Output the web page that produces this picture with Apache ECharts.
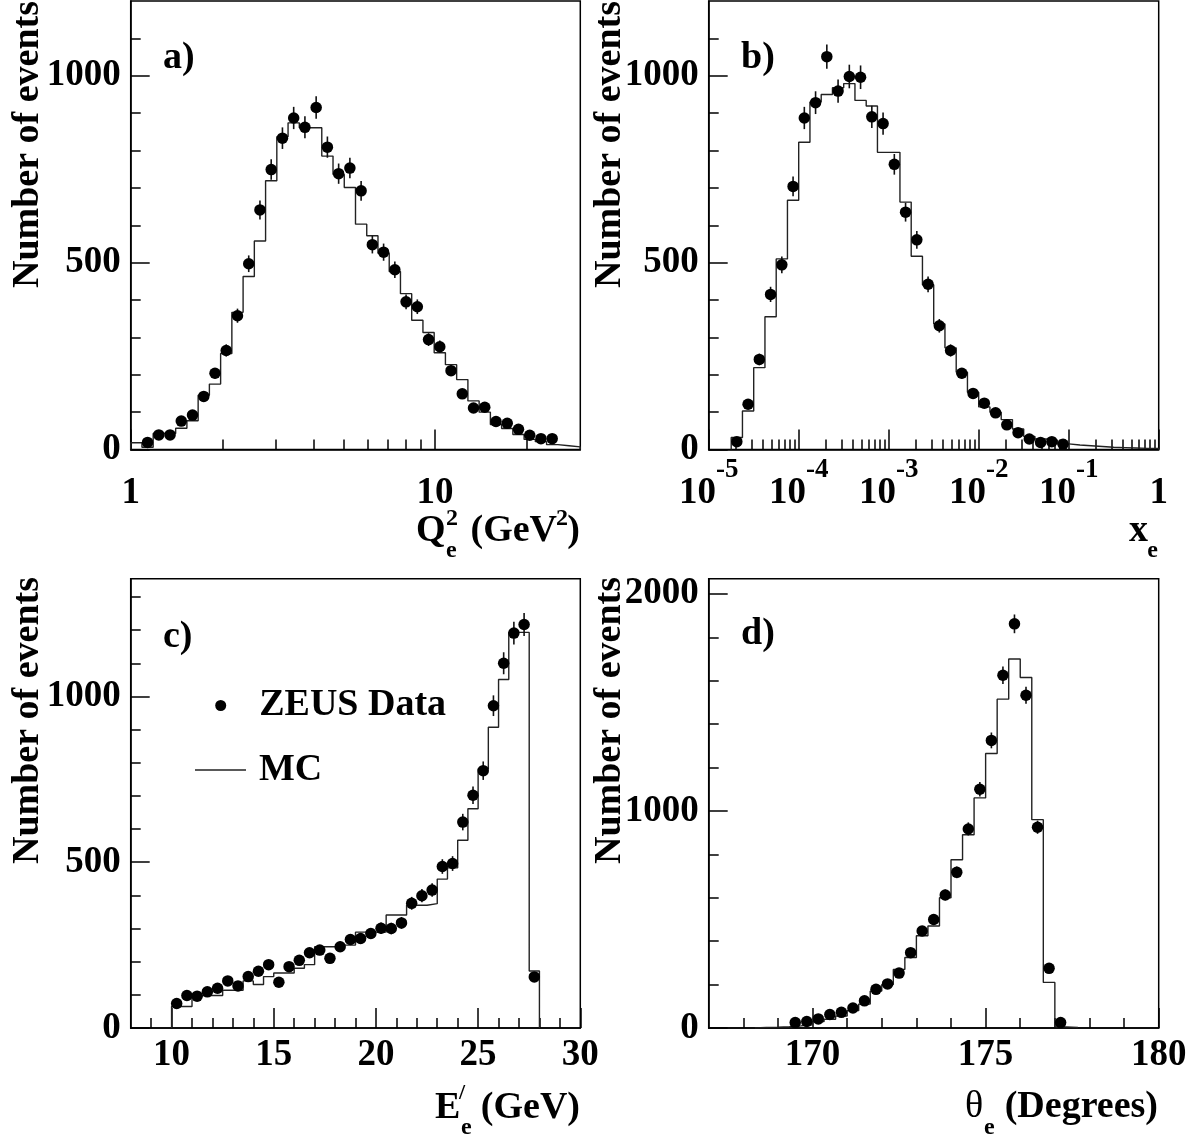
<!DOCTYPE html>
<html>
<head>
<meta charset="utf-8">
<script src="https://cdn.jsdelivr.net/npm/echarts@6.0.0/dist/echarts.min.js"></script>
<style>
html,body{margin:0;padding:0;background:#fff;}
#chart{width:1195px;height:1138px;}
</style>
</head>
<body>
<div id="chart"></div>
<script>
const FONT = '"Liberation Serif","Times New Roman",serif';

// ---------------- Panel a) Q^2_e (log bins 1..30, 40 bins) ----------------
const aBinLo = 1, aBinHi = 30, aNBins = 40;
const aMC = [18, 6, 43, 43, 57, 77, 145, 175, 257, 367, 463, 558, 719, 837, 874, 861, 861, 785, 736, 701,
             603, 572, 525, 476, 417, 346, 313, 259, 227, 187, 130, 100, 67, 56, 40, 27, 21, 13, 10, 7];
const aDataFirstBin = 1;
const aData = [19, 39, 39, 76, 92, 142, 204, 265, 358, 497, 641, 749, 833, 887, 862, 915, 809, 738, 753, 692,
               548, 528, 481, 395, 382, 294, 275, 211, 149, 111, 113, 75, 70, 54, 38, 29, 29];
const aXMajor = [1, 10];
const aXMinor = [2, 3, 4, 5, 6, 7, 8, 9, 20];

// ---------------- Panel b) x_e (log bins 10^-4.75..1, 8 per decade) ----------------
const bBinLo = Math.pow(10, -4.75), bBinHi = 1, bNBins = 38;
const bMC = [32, 103, 219, 355, 510, 667, 822, 930, 950, 968, 979, 934, 919, 795, 795, 662, 517, 441, 336, 272,
             207, 153, 114, 100, 80, 55, 35, 28, 25, 15, 12, 10, 8, 6, 5, 4, 3, 3];
const bDataFirstBin = 0;
const bData = [21, 121, 241, 415, 494, 704, 887, 928, 1051, 959, 998, 996, 890, 872, 763, 635, 561, 442, 331, 265,
               204, 150, 124, 98, 66, 45, 28, 19, 21, 14];
const bXMajor = [1e-5, 1e-4, 1e-3, 1e-2, 1e-1, 1];
const bXMinorMult = [2, 3, 4, 5, 6, 7, 8, 9];

// ---------------- Panel c) E'_e (0.5 GeV bins from 10 GeV) ----------------
const cBinLo = 10, cBinWidth = 0.5, cNBins = 36;
const cMC = [65, 65, 98, 98, 98, 114, 114, 142, 131, 155, 166, 166, 180, 191, 245, 245, 250, 250, 289, 289,
             289, 341, 341, 370, 370, 375, 449, 483, 566, 661, 781, 907, 1051, 1193, 1193, 172];
const cDataFirstBin = 0;
const cData = [74, 98, 96, 109, 120, 142, 127, 155, 171, 191, 138, 185, 204, 227, 235, 210, 245, 267, 270, 285,
               301, 300, 317, 376, 399, 416, 487, 496, 621, 702, 776, 972, 1100, 1191, 1217, 154];
const cXMajor = [10, 15, 20, 25, 30];
const cXMinor = [9, 11, 12, 13, 14, 16, 17, 18, 19, 21, 22, 23, 24, 26, 27, 28, 29];

// ---------------- Panel d) theta_e (1/3 degree bins from 167) ----------------
const dBinLo = 167, dBinWidth = 1 / 3, dNBins = 39;
const dMCFirstBin = 4;
const dMC = [3, 4, 6, 10, 15, 30, 40, 55, 80, 110, 170, 200, 270, 325, 425, 470, 600, 775, 890, 1060,
             1265, 1515, 1700, 1615, 960, 210, 5, 2];
const dDataFirstBin = 7;
const dData = [25, 30, 42, 62, 72, 92, 125, 178, 203, 253, 347, 447, 500, 613, 717, 917, 1100, 1325, 1625, 1862,
               1533, 925, 275, 25];
const dXMajor = [170, 175, 180];
const dXMinor = [168, 169, 171, 172, 173, 174, 176, 177, 178, 179];

// ---------------- Y axes ----------------
const abYMax = 1200, cYMax = 1355, dYMax = 2070;
const abYMajor = [0, 500, 1000];
const abYMinor = [100, 200, 300, 400, 600, 700, 800, 900, 1100];
const cYMajor = [0, 500, 1000];
const cYMinor = [100, 200, 300, 400, 600, 700, 800, 900, 1100, 1200, 1300];
const dYMajor = [0, 1000, 2000];
const dYMinor = [200, 400, 600, 800, 1200, 1400, 1600, 1800];

// ---------------- helpers ----------------
function logEdges(lo, hi, n) {
  const e = [];
  for (let i = 0; i <= n; i++) e.push(lo * Math.pow(hi / lo, i / n));
  return e;
}
function linEdges(lo, w, n) {
  const e = [];
  for (let i = 0; i <= n; i++) e.push(lo + i * w);
  return e;
}
function histSteps(edges, first, vals) {
  const pts = [[edges[first], 0]];
  vals.forEach((v, i) => pts.push([edges[first + i], v]));
  const end = edges[first + vals.length];
  pts.push([end, vals[vals.length - 1]]);
  pts.push([end, 0]);
  return pts;
}
function dataPts(edges, first, vals, isLog) {
  return vals.map((v, i) => {
    const lo = edges[first + i], hi = edges[first + i + 1];
    const c = isLog ? Math.sqrt(lo * hi) : (lo + hi) / 2;
    return [c, v, Math.sqrt(v)];
  });
}

const aEdges = logEdges(aBinLo, aBinHi, aNBins);
const bEdges = logEdges(bBinLo, bBinHi, bNBins);
const cEdges = linEdges(cBinLo, cBinWidth, cNBins);
const dEdges = linEdges(dBinLo, dBinWidth, dNBins);

const bXMinor = [];
for (let p = -5; p <= -1; p++) bXMinorMult.forEach(k => bXMinor.push(k * Math.pow(10, p)));

const grids = [
  {left: 130.7, top: 1, width: 449.6, height: 448.5},
  {left: 708.7, top: 1, width: 450, height: 448.5},
  {left: 130.7, top: 578.7, width: 449.6, height: 449.3},
  {left: 708.7, top: 578.7, width: 450, height: 449.3}
].map(g => Object.assign({show: true, borderColor: '#000', borderWidth: 1.5,
  backgroundColor: 'transparent', containLabel: false, outerBoundsMode: 'none'}, g));

const TICK_FS = 37;
const lblBase = {color: '#000', fontFamily: FONT, fontWeight: 'bold', fontSize: TICK_FS};
const logRich = {
  b: {fontSize: TICK_FS, fontWeight: 'bold', fontFamily: FONT, lineHeight: 74, color: '#000'},
  s: {fontSize: 27, fontWeight: 'bold', fontFamily: FONT, lineHeight: 28, verticalAlign: 'top', color: '#000'}
};
const plainFmt = v => String(v);

function xPair(g, type, min, max, major, minor, labelOpt) {
  const common = {type, gridIndex: g, min, max, position: 'bottom', splitLine: {show: false}};
  if (type === 'log') common.logBase = 10;
  const main = Object.assign({}, common, {
    axisLine: {show: true, onZero: false, lineStyle: {color: '#000', width: 1.5}},
    axisTick: {show: true, inside: true, length: 20, customValues: major, lineStyle: {color: '#000', width: 1.5}},
    axisLabel: Object.assign({show: true, customValues: major, formatter: plainFmt}, lblBase, labelOpt),
    minorTick: {show: false}
  });
  const mn = Object.assign({}, common, {
    axisLine: {show: false},
    axisTick: {show: true, inside: true, length: 10, customValues: minor, lineStyle: {color: '#000', width: 1.5}},
    axisLabel: {show: false},
    minorTick: {show: false}
  });
  return [main, mn];
}
function yPair(g, max, major, minor) {
  const common = {type: 'value', gridIndex: g, min: 0, max, position: 'left', offset: 0, splitLine: {show: false}};
  const main = Object.assign({}, common, {
    axisLine: {show: true, onZero: false, lineStyle: {color: '#000', width: 1.5}},
    axisTick: {show: true, inside: true, length: 19, customValues: major, lineStyle: {color: '#000', width: 1.5}},
    axisLabel: Object.assign({show: true, customValues: major, margin: 10, formatter: plainFmt}, lblBase)
  });
  const mn = Object.assign({}, common, {
    axisLine: {show: false},
    axisTick: {show: true, inside: true, length: 10, customValues: minor, lineStyle: {color: '#000', width: 1.5}},
    axisLabel: {show: false}
  });
  return [main, mn];
}

const logFmtPlain = v => '{b|' + (Math.round(Math.log10(v)) === 0 ? '1' : '10') + '}';
const logFmtPow = v => {
  const e = Math.round(Math.log10(v));
  return e === 0 ? '{b|1}' : '{b|10}{s|' + e + '}';
};

const xAxes = [].concat(
  xPair(0, 'log', 1, 30, aXMajor, aXMinor, {margin: 7, formatter: logFmtPlain, rich: logRich}),
  xPair(1, 'log', 1e-5, 1, bXMajor, bXMinor, {margin: 7, formatter: logFmtPow, rich: logRich}),
  xPair(2, 'value', 8, 30, cXMajor, cXMinor, {margin: 9}),
  xPair(3, 'value', 167, 180, dXMajor, dXMinor, {margin: 9})
);
const yAxes = [].concat(
  yPair(0, abYMax, abYMajor, abYMinor),
  yPair(1, abYMax, abYMajor, abYMinor),
  yPair(2, cYMax, cYMajor, cYMinor),
  yPair(3, dYMax, dYMajor, dYMinor)
);

function panelSeries(g, steps, pts) {
  return [
    {name: 'MC', type: 'line', xAxisIndex: 2 * g, yAxisIndex: 2 * g, data: steps, step: 'end',
     symbol: 'none', showSymbol: false, lineStyle: {color: '#222', width: 1.4}, itemStyle: {color: '#222'},
     silent: true, animation: false, z: 2},
    {name: 'err', type: 'custom', xAxisIndex: 2 * g, yAxisIndex: 2 * g, data: pts,
     encode: {x: 0, y: 1}, silent: true, animation: false, z: 3,
     renderItem: (params, api) => {
       const x = api.value(0), y = api.value(1), e = api.value(2);
       const p1 = api.coord([x, y - e]), p2 = api.coord([x, y + e]);
       return {type: 'line', shape: {x1: p1[0], y1: p1[1], x2: p2[0], y2: p2[1]},
               style: {stroke: '#111', lineWidth: 1.6}};
     }},
    {name: 'ZEUS Data', type: 'scatter', xAxisIndex: 2 * g, yAxisIndex: 2 * g,
     data: pts.map(p => [p[0], p[1]]), symbol: 'circle', symbolSize: 11.5,
     itemStyle: {color: '#000', opacity: 1}, silent: true, animation: false, z: 4}
  ];
}

const series = [].concat(
  panelSeries(0, histSteps(aEdges, 0, aMC), dataPts(aEdges, aDataFirstBin, aData, true)),
  panelSeries(1, histSteps(bEdges, 0, bMC), dataPts(bEdges, bDataFirstBin, bData, true)),
  panelSeries(2, histSteps(cEdges, 0, cMC), dataPts(cEdges, cDataFirstBin, cData, false)),
  panelSeries(3, histSteps(dEdges, dMCFirstBin, dMC), dataPts(dEdges, dDataFirstBin, dData, false))
);

function T(x, y, text, size, o) {
  o = o || {};
  return {type: 'text', x, y, rotation: o.rot || 0, silent: true, z: 10,
    style: {text, font: (o.w || 'bold') + ' ' + size + 'px ' + FONT, fill: '#000',
            align: o.align || 'left', verticalAlign: o.va || 'middle'}};
}

const graphics = [
  // y titles
  T(28, 1, 'Number of events', 38, {rot: Math.PI / 2, align: 'right'}),
  T(610, 1, 'Number of events', 38, {rot: Math.PI / 2, align: 'right'}),
  T(28, 577, 'Number of events', 38, {rot: Math.PI / 2, align: 'right'}),
  T(610, 577, 'Number of events', 38, {rot: Math.PI / 2, align: 'right'}),
  // panel letters
  T(163, 58, 'a)', 38), T(741, 58, 'b)', 38), T(163, 637, 'c)', 38), T(741, 634, 'd)', 38),
  // a title: Q^2_e (GeV^2)
  T(416, 531, 'Q', 38), T(446, 519, '2', 24), T(446, 551, 'e', 24),
  T(557, 531, '(GeV', 38, {align: 'right'}), T(568, 519, '2', 24, {align: 'right'}),
  T(580, 531, ')', 38, {align: 'right'}),
  // b title: x_e
  T(1148, 531, 'x', 38, {align: 'right'}), T(1158, 551, 'e', 24, {align: 'right'}),
  // c title: E'_e (GeV)
  T(435, 1108, 'E', 38), T(459, 1093, '/', 22), T(461, 1128, 'e', 24),
  T(580, 1108, '(GeV)', 38, {align: 'right'}),
  // d title: theta_e (Degrees)
  T(965, 1107, '\u03b8', 38, {w: 'normal'}), T(984, 1128, 'e', 24),
  T(1158, 1107, '(Degrees)', 38, {align: 'right'})
];

function legendTextStyle(padLeft) {
  return {
    color: '#000',
    rich: {t: {fontFamily: FONT, fontWeight: 'bold', fontSize: 38, lineHeight: 40, color: '#000',
               padding: [0, 0, 0, padLeft]}}
  };
}

const option = {
  backgroundColor: '#fff',
  animation: false,
  grid: grids,
  xAxis: xAxes,
  yAxis: yAxes,
  legend: [
    {left: 215.2, top: 686.5, padding: 0, orient: 'vertical', itemWidth: 11, itemHeight: 11, selectedMode: false,
     data: [{name: 'ZEUS Data', icon: 'circle', itemStyle: {color: '#000', opacity: 1}}],
     formatter: n => '{t|' + n + '}', textStyle: legendTextStyle(28)},
    {left: 195, top: 751, padding: 0, orient: 'vertical', itemWidth: 51, itemHeight: 1.4, selectedMode: false,
     data: [{name: 'MC', icon: 'rect', itemStyle: {color: '#222'}}],
     formatter: n => '{t|' + n + '}', textStyle: legendTextStyle(8)}
  ],
  series,
  graphic: graphics
};

const chart = echarts.init(document.getElementById('chart'), null, {renderer: 'canvas'});
chart.setOption(option);
</script>
</body>
</html>
